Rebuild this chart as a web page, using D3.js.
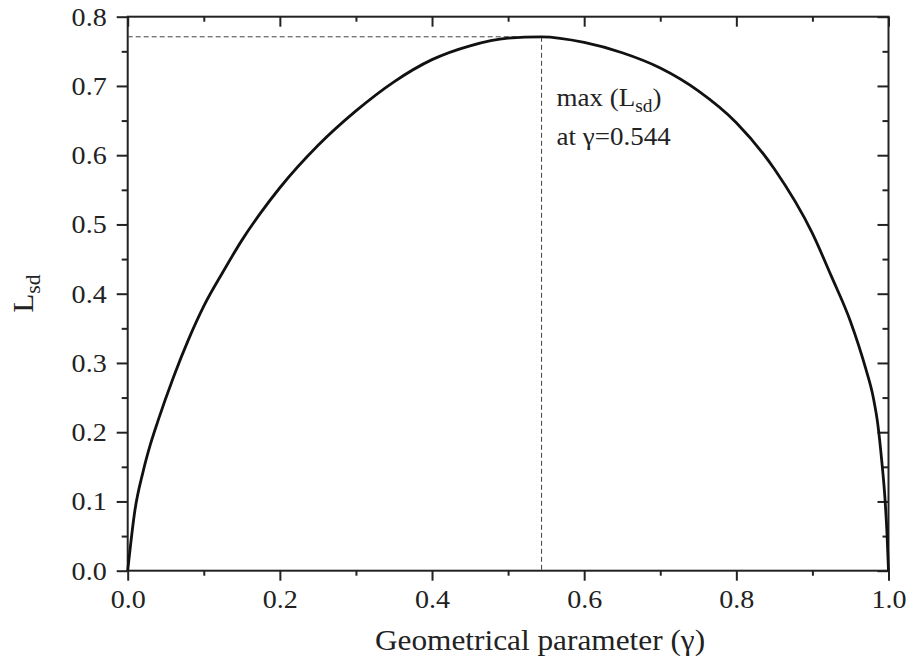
<!DOCTYPE html>
<html>
<head>
<meta charset="utf-8">
<script src="https://cdn.jsdelivr.net/npm/d3@7"></script>
<style>
  html, body { margin: 0; padding: 0; background: #fff; }
  svg { display: block; }
  text { font-family: "Liberation Serif", "Times New Roman", serif; fill: #222; }
</style>
</head>
<body>
<svg id="chart" width="917" height="660"></svg>
<script>
// ---- data ----
const gamma = [0, 0.0096, 0.02, 0.03, 0.04, 0.06, 0.08, 0.10, 0.125, 0.15, 0.175, 0.20, 0.25, 0.30, 0.35, 0.40, 0.45, 0.50, 0.544, 0.60, 0.65, 0.70, 0.75, 0.80, 0.85, 0.90, 0.925, 0.95, 0.97, 0.98, 0.986, 0.991, 0.9955, 0.998, 1.0];
const Lsd   = [0, 0.088, 0.142, 0.183, 0.217, 0.279, 0.334, 0.382, 0.431, 0.477, 0.517, 0.553, 0.614, 0.664, 0.706, 0.738, 0.758, 0.769, 0.771, 0.763, 0.748, 0.726, 0.693, 0.647, 0.580, 0.487, 0.425, 0.360, 0.292, 0.250, 0.211, 0.160, 0.102, 0.054, 0];
const xTicks = [0.0, 0.2, 0.4, 0.6, 0.8, 1.0];
const xMinor = [0.1, 0.3, 0.5, 0.7, 0.9];
const yTicks = [0.0, 0.1, 0.2, 0.3, 0.4, 0.5, 0.6, 0.7, 0.8];
const yMinor = [0.05, 0.15, 0.25, 0.35, 0.45, 0.55, 0.65, 0.75];
const maxGamma = 0.544;
const maxL = 0.771;
const xTitle = "Geometrical parameter (γ)";

// ---- layout ----
const SX = 1.08; // horizontal stretch of glyphs seen in the reference
const svg = d3.select("#chart");
const pL = 127.7, pR = 888.5, pT = 16.7, pB = 570.7;
const x = d3.scaleLinear().domain([0, 1]).range([pL, pR]);
const y = d3.scaleLinear().domain([0, 0.8]).range([pB, pT]);
const fmt = d3.format(".1f");

const gx = svg.append("g").attr("transform", `translate(0,${pB})`)
  .call(d3.axisBottom(x).tickValues(xTicks).tickFormat(fmt).tickSize(10).tickPadding(9));
const gxm = svg.append("g").attr("transform", `translate(0,${pB})`)
  .call(d3.axisBottom(x).tickValues(xMinor).tickFormat("").tickSize(5));
const gy = svg.append("g").attr("transform", `translate(${pL},0)`)
  .call(d3.axisLeft(y).tickValues(yTicks).tickFormat(fmt).tickSize(11).tickPadding(10));
const gym = svg.append("g").attr("transform", `translate(${pL},0)`)
  .call(d3.axisLeft(y).tickValues(yMinor).tickFormat("").tickSize(6));
const gt = svg.append("g").attr("transform", `translate(0,${pT})`)
  .call(d3.axisBottom(x).tickValues(xTicks).tickFormat("").tickSize(10));
const gtm = svg.append("g").attr("transform", `translate(0,${pT})`)
  .call(d3.axisBottom(x).tickValues(xMinor).tickFormat("").tickSize(5));
const gr = svg.append("g").attr("transform", `translate(${pR},0)`)
  .call(d3.axisLeft(y).tickValues(yTicks).tickFormat("").tickSize(11));
const grm = svg.append("g").attr("transform", `translate(${pR},0)`)
  .call(d3.axisLeft(y).tickValues(yMinor).tickFormat("").tickSize(6));

[gx, gxm, gy, gym, gt, gtm, gr, grm].forEach(g => {
  g.select(".domain").remove();
  g.selectAll("line").attr("stroke", "#222").attr("stroke-width", 2);
  g.selectAll("text").style("font-size", "26px").attr("fill", "#222")
    .style("font-family", "'Liberation Serif', serif");
});
gx.selectAll(".tick text").attr("transform", `scale(${SX},1)`);
gy.selectAll(".tick text").each(function () {
  const t = d3.select(this);
  t.attr("x", +t.attr("x") / SX).attr("transform", `scale(${SX},1)`);
});

// frame
svg.append("rect").attr("x", pL).attr("y", pT)
  .attr("width", pR - pL).attr("height", pB - pT)
  .attr("fill", "none").attr("stroke", "#222").attr("stroke-width", 2);

// dashed guide lines
svg.append("line")
  .attr("x1", x(0)).attr("x2", x(maxGamma)).attr("y1", y(maxL)).attr("y2", y(maxL))
  .attr("stroke", "#444").attr("stroke-width", 1).attr("stroke-dasharray", "5,3");
svg.append("line")
  .attr("x1", x(maxGamma)).attr("x2", x(maxGamma)).attr("y1", y(maxL)).attr("y2", y(0))
  .attr("stroke", "#444").attr("stroke-width", 1).attr("stroke-dasharray", "5,3");

// curve
const pts = gamma.map((g, i) => [g, Lsd[i]]);
svg.append("path").datum(pts)
  .attr("d", d3.line().x(d => x(d[0])).y(d => y(d[1])).curve(d3.curveMonotoneX))
  .attr("fill", "none").attr("stroke", "#111").attr("stroke-width", 2.8);

// annotation
const ann = svg.append("text")
  .attr("transform", `translate(${x(maxGamma) + 15},106) scale(${SX},1)`)
  .style("font-size", "25px");
ann.append("tspan").text("max (L");
ann.append("tspan").attr("dy", 6).style("font-size", "18px").text("sd");
ann.append("tspan").attr("dy", -6).text(")");
svg.append("text")
  .attr("transform", `translate(${x(maxGamma) + 15},145) scale(${SX},1)`)
  .style("font-size", "25px").text("at γ=0.544");

// axis titles
svg.append("text")
  .attr("transform", `translate(540,650) scale(${SX},1)`)
  .attr("text-anchor", "middle").style("font-size", "29px").text(xTitle);
const yt = svg.append("text")
  .attr("transform", `translate(33,${(pT + pB) / 2}) rotate(-90) scale(${SX},1)`)
  .attr("text-anchor", "middle").style("font-size", "29px");
yt.append("tspan").text("L");
yt.append("tspan").attr("dy", 7).style("font-size", "20px").text("sd");
</script>
</body>
</html>
